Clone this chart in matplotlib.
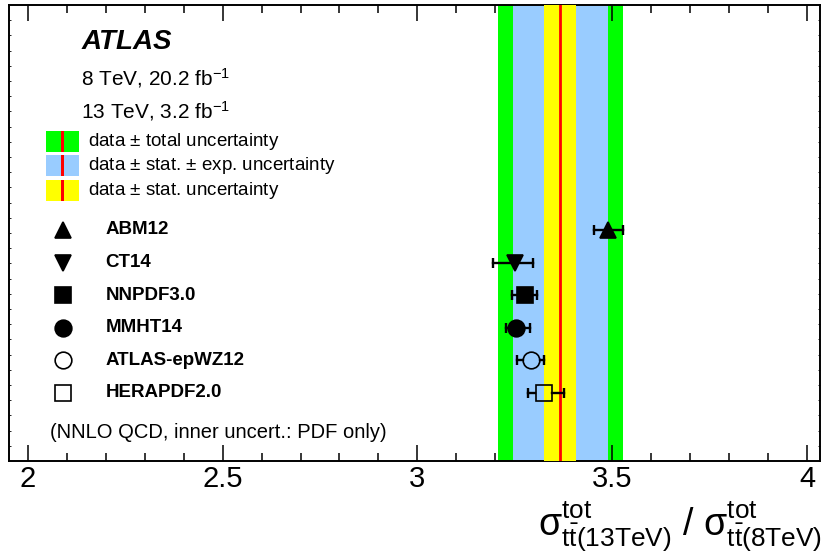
#!/usr/bin/env python3

"""ATLAS ttbar cross-section ratio 13 TeV / 8 TeV vs PDF predictions"""

import numpy as np
import matplotlib as mpl

mpl.use("Agg")
from matplotlib import pyplot as plt
from matplotlib.patches import Rectangle
from matplotlib.transforms import blended_transform_factory

mpl.rcParams["font.family"] = ["Liberation Sans", "DejaVu Sans"]
mpl.rcParams["mathtext.fontset"] = "custom"
mpl.rcParams["mathtext.rm"] = "Liberation Sans"
mpl.rcParams["mathtext.it"] = "Liberation Sans:italic"
mpl.rcParams["mathtext.bf"] = "Liberation Sans:bold"
mpl.rcParams["mathtext.default"] = "regular"

# measured ratio and its uncertainty bands (half widths)
data_ratio = 3.367
stat_unc = 0.041
stat_exp_unc = 0.121
total_unc = 0.160

# NNLO QCD predictions with PDF uncertainty
pdf_names = ["ABM12", "CT14", "NNPDF3.0", "MMHT14", "ATLAS-epWZ12", "HERAPDF2.0"]
pred = [3.490, 3.251, 3.275, 3.253, 3.292, 3.324]
pred_lo = [0.038, 0.058, 0.032, 0.025, 0.036, 0.039]
pred_hi = [0.037, 0.045, 0.032, 0.035, 0.032, 0.053]
markers = ["^", "v", "s", "o", "o", "s"]
filled = [True, True, True, True, False, False]

band_labels = [
    "data $\\pm$ total uncertainty",
    "data $\\pm$ stat. $\\pm$ exp. uncertainty",
    "data $\\pm$ stat. uncertainty",
]

GREEN = "#00ff00"
BLUE = "#99ccff"
YELLOW = "#ffff00"
RED = "#ff0000"

W, H = 823, 555
fig = plt.figure(figsize=(W / 100, H / 100), dpi=100)
ax = fig.add_axes([9 / W, 1 - 461 / H, 811 / W, 456 / H])

xlim = (1.952, 4.033)
ylim = (7.086, -6.90)

# bands
ax.axvspan(data_ratio - total_unc, data_ratio + total_unc, color=GREEN, lw=0, zorder=1)
ax.axvspan(data_ratio - stat_exp_unc, data_ratio + stat_exp_unc, color=BLUE, lw=0, zorder=2)
ax.axvspan(data_ratio - stat_unc, data_ratio + stat_unc, color=YELLOW, lw=0, zorder=3)
ax.axvline(data_ratio, color=RED, lw=2.0, zorder=4)

ms = 12.0
# half marker width in data units, so error bars stop at open markers
px_per_unit = 811 / (xlim[1] - xlim[0])
r = ms / 2 * 100 / 72 / px_per_unit

trans_leg = blended_transform_factory(ax.transAxes, ax.transData)
for i, name in enumerate(pdf_names):
    x = pred[i]
    lo = x - pred_lo[i]
    hi = x + pred_hi[i]
    if filled[i]:
        ax.plot([lo, hi], [i, i], color="black", lw=1.7, zorder=5)
    else:
        ax.plot([lo, x - r], [i, i], color="black", lw=1.7, zorder=5)
        ax.plot([x + r, hi], [i, i], color="black", lw=1.7, zorder=5)
    ax.plot([lo, hi], [i, i], ls="none", marker="|", ms=7, mew=1.7,
            color="black", zorder=5)
    face = "black" if filled[i] else "none"
    ax.plot([x], [i], ls="none", marker=markers[i], ms=ms, mfc=face,
            mec="black", mew=1.2, zorder=6)

    # legend entries
    ax.plot([0.0666], [i], ls="none", marker=markers[i], ms=ms, mfc=face,
            mec="black", mew=1.2, transform=trans_leg, zorder=6, clip_on=False)
    ax.text(0.119, i, name, transform=trans_leg, fontsize=13.5,
            fontweight="bold", va="center", ha="left")

# band legend
box_colors = [GREEN, BLUE, YELLOW]
box_y = [141, 165.5, 190.5]
for col, yc, lab in zip(box_colors, box_y, band_labels):
    fig.patches.append(Rectangle((46 / W, 1 - (yc + 10.5) / H), 33 / W, 21 / H,
                                 facecolor=col, edgecolor="none",
                                 transform=fig.transFigure))
    fig.patches.append(Rectangle((61.3 / W, 1 - (yc + 10.5) / H), 2.2 / W, 21 / H,
                                 facecolor=RED, edgecolor="none",
                                 transform=fig.transFigure))
    fig.text(88 / W, 1 - yc / H, lab, fontsize=13.5, va="center", ha="left")

fig.text(82 / W, 1 - 42 / H, "ATLAS", fontsize=20, fontweight="bold",
         fontstyle="italic", va="center", ha="left")
fig.text(81 / W, 1 - 78 / H, "8 TeV, 20.2 fb$^{-1}$", fontsize=15,
         va="center", ha="left")
fig.text(81 / W, 1 - 111 / H, "13 TeV, 3.2 fb$^{-1}$", fontsize=15,
         va="center", ha="left")
fig.text(50 / W, 1 - 432 / H, "(NNLO QCD, inner uncert.: PDF only)", fontsize=14.5,
         va="center", ha="left")

# axis
ax.set_xticks([2, 2.5, 3, 3.5, 4])
ax.set_xticklabels(["2", "2.5", "3", "3.5", "4"])
ax.set_xticks(np.arange(20, 41) / 10, minor=True)
ax.set_yticks(np.linspace(ylim[0], ylim[1], 31)[1:-1])
ax.set_xlim(xlim)
ax.set_ylim(ylim)
ax.tick_params(axis="x", which="major", direction="in", top=True, length=11.5,
               width=1.1, labelsize=21, pad=3)
ax.tick_params(axis="x", which="minor", direction="in", top=True, length=5.8,
               width=1.1)
ax.tick_params(axis="y", which="major", direction="in", right=True, length=1.2,
               width=0.6, labelleft=False)
for side in ["top", "bottom", "left", "right"]:
    ax.spines[side].set_linewidth(1.4)

fig.text(822 / W, 1 - 553 / H,
         r"$\sigma^{tot}_{t\bar{t}(13TeV)}$ / $\sigma^{tot}_{t\bar{t}(8TeV)}$",
         fontsize=27, ha="right", va="bottom")

plt.savefig("out.png", dpi=100)
